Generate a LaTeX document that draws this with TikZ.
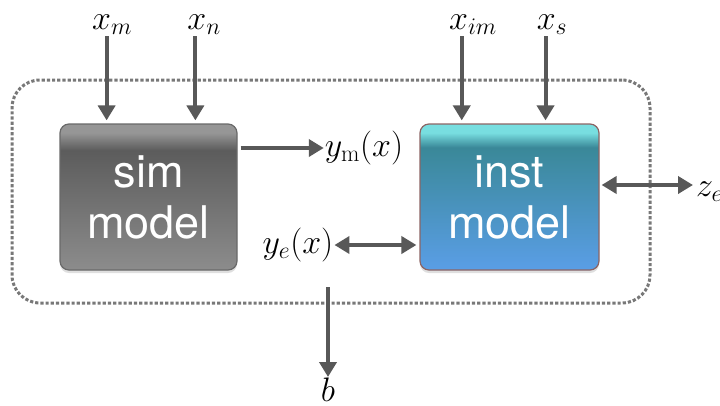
\RequirePackage{fix-cm}
\documentclass[tikz,border=0pt]{standalone}
\usepackage{amsmath}
\usepackage{fontspec}
\usepackage{tikz}
\usetikzlibrary{arrows.meta, positioning, calc, shadows}
\newfontfamily\boxfont{TeX Gyre Heros}
\definecolor{arrowgray}{RGB}{88, 88, 88}
\definecolor{framegray}{RGB}{120,120,120}
\definecolor{simtop}{RGB}{150,150,150}
\definecolor{simmid}{RGB}{92, 92, 92}
\definecolor{simbot}{RGB}{140,140,140}
\definecolor{simedge}{RGB}{105,105,105}
\definecolor{instcyan}{RGB}{120,222,224}
\definecolor{insttop}{RGB}{58, 136,152}
\definecolor{instbot}{RGB}{90, 158,230}
\definecolor{instedge}{RGB}{140,100,100}
\pgfdeclareverticalshading{simfill}{100bp}{color(0bp)=(simbot); color(25bp)=(simbot);
  color(66bp)=(simmid); color(72bp)=(simtop); color(75bp)=(simtop); color(100bp)=(simtop)}
\pgfdeclareverticalshading{instfill}{100bp}{color(0bp)=(instbot); color(25bp)=(instbot);
  color(67bp)=(insttop); color(72bp)=(instcyan); color(75bp)=(instcyan); color(100bp)=(instcyan)}

\begin{document}
\begin{tikzpicture}[
    x=1pt, y=-1pt,
    model/.style  = {rectangle, rounded corners=9pt, line width=1.2pt,
                     minimum height=146pt, align=center, text=white,
                     font=\boxfont\fontsize{45}{51}\selectfont,
                     drop shadow={opacity=0.25, shadow xshift=0pt, shadow yshift=-3pt}},
    simbox/.style = {model, draw=simedge, shading=simfill, minimum width=177pt},
    instbox/.style= {model, draw=instedge, shading=instfill, minimum width=179pt},
    frame/.style  = {rectangle, rounded corners=28pt, draw=framegray, line width=3pt,
                     dash pattern=on 3.2pt off 2pt, minimum width=638pt, minimum height=223pt},
    arrow/.style  = {-{Triangle[length=15pt, width=17pt]}, line width=4pt, color=arrowgray},
    dbl/.style    = {{Triangle[length=15pt, width=17pt]}-{Triangle[length=15pt, width=17pt]},
                     line width=4pt, color=arrowgray},
    lbl/.style    = {font=\fontsize{34}{38}\selectfont, inner sep=1pt},
]
\useasboundingbox (0,0) rectangle (720,405);

% system boundary
\node[frame] (sys) at (331,191.5) {};

% models
\node[simbox]  (sim)  at (148.5,197) {sim\\model};
\node[instbox] (inst) at (509.5,197) {inst\\model};

% inputs
\coordinate (sim-a)  at ($(sim.north west)!0.265!(sim.north east)+(0,-3)$);
\coordinate (sim-b)  at ($(sim.north west)!0.763!(sim.north east)+(0,-3)$);
\coordinate (inst-a) at ($(inst.north west)!0.235!(inst.north east)+(0,-3)$);
\coordinate (inst-b) at ($(inst.north west)!0.700!(inst.north east)+(0,-3)$);

\node[lbl] (xm)  at (112,25) {$x_m$};
\node[lbl] (xn)  at (204,25) {$x_n$};
\node[lbl] (xim) at (473,25) {$x_{im}$};
\node[lbl] (xs)  at (552,25) {$x_s$};

\draw[arrow] (xm.south -| sim-a)   -- (sim-a);
\draw[arrow] (xn.south -| sim-b)   -- (sim-b);
\draw[arrow] (xim.south -| inst-a) -- (inst-a);
\draw[arrow] (xs.south -| inst-b)  -- (inst-b);

% outputs
\node[lbl] (ym) at (364,148) {$y_{\mathrm{m}}(x)$};
\node[lbl] (ye) at (298,245) {$y_e(x)$};
\node[lbl, anchor=west] (ze) at (695,192) {$z_e$};
\node[lbl] (b)  at (328,390) {$b$};
\coordinate (b-src) at (328,287);

\draw[arrow] ([xshift=3pt]sim.east |- ym) -- (ym.west);
\draw[dbl]   (ye.east) -- ([xshift=-3pt]inst.west |- ye);
\draw[dbl]   ([xshift=2pt]inst.east |- 0,185) -- ([xshift=-2pt]ze.west |- 0,185);
\draw[arrow] (b-src) -- (b.north);
\end{tikzpicture}
\end{document}
